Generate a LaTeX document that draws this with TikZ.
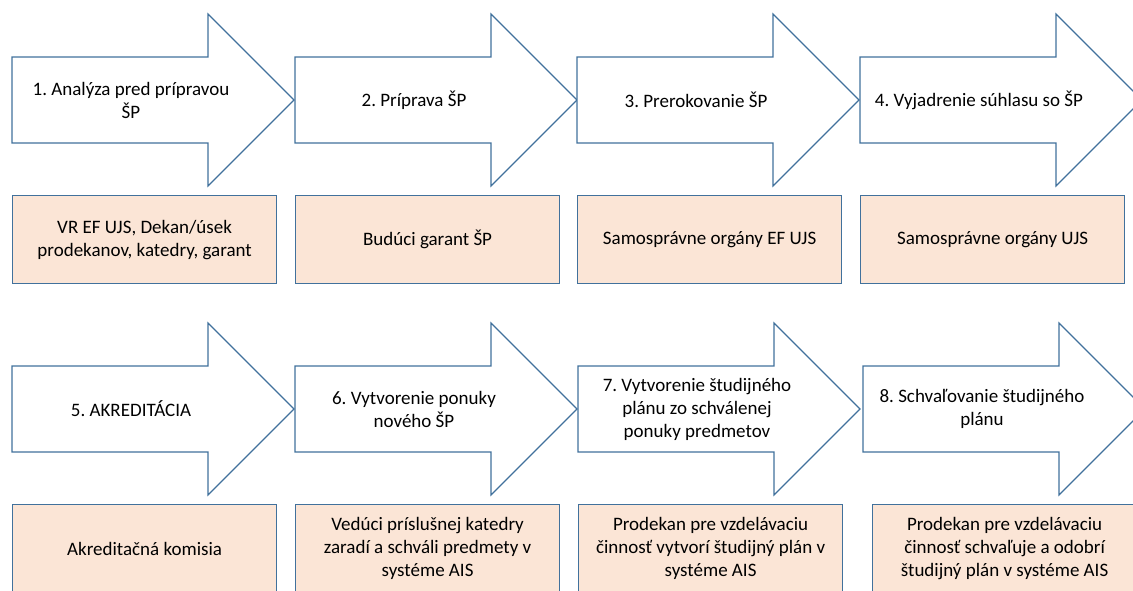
\documentclass[tikz,border=0pt]{standalone}
\usepackage{fontspec}
\setmainfont{Carlito}
\frenchspacing
\definecolor{outl}{HTML}{41719C}
\definecolor{peach}{HTML}{FBE5D6}
\begin{document}
\begin{tikzpicture}[x=1pt,y=-1pt,
  arr/.style={draw=outl,fill=white,line width=1.2pt,line join=miter},
  box/.style={draw=outl,fill=peach,line width=1.2pt,anchor=north west,
    minimum width=264pt,minimum height=88pt,inner sep=0pt,align=center,
    font=\fontsize{19}{23}\selectfont},
  lbl/.style={align=center,inner sep=0pt,font=\fontsize{19}{23}\selectfont}]
\useasboundingbox (0,0) rectangle (1133,590);
\clip (0,0) rectangle (1133,590);
\newcommand\barrow[3]{%
  \draw[arr] (#1,#2-43) -- (#1+196,#2-43) -- (#1+196,#2-86) -- (#1+282,#2)
    -- (#1+196,#2+86) -- (#1+196,#2+43) -- (#1,#2+43) -- cycle;
  \coordinate (#3) at (#1+119,#2);}
% row 1 arrows
\barrow{12}{100}{a1}
\barrow{295}{100}{a2}
\barrow{577}{100}{a3}
\barrow{860}{100}{a4}
\node[lbl] (t1) at (131,100) {1. Analýza pred prípravou\\ŠP};
\node[lbl] (t2) at (414,100) {2. Príprava ŠP};
\node[lbl] (t3) at (696,100) {3. Prerokovanie ŠP};
\node[lbl] (t4) at (979,100) {4. Vyjadrenie súhlasu so ŠP};
% row 1 boxes
\node[box] (b1) at (12,195) {VR EF UJS, Dekan/úsek\\prodekanov, katedry, garant};
\node[box] (b2) at (295,195) {Budúci garant ŠP};
\node[box] (b3) at (577,195) {Samosprávne orgány EF UJS};
\node[box] (b4) at (860,195) {Samosprávne orgány UJS};
% row 2 arrows
\barrow{12}{409}{a5}
\barrow{295}{409}{a6}
\barrow{578}{409}{a7}
\barrow{863}{409}{a8}
\node[lbl] (t5) at (131,409) {5. AKREDITÁCIA};
\node[lbl] (t6) at (414,409) {6. Vytvorenie ponuky\\nového ŠP};
\node[lbl] (t7) at (697,409) {7. Vytvorenie študijného\\plánu zo schválenej\\ponuky predmetov};
\node[lbl] (t8) at (982,409) {8. Schvaľovanie študijného\\plánu};
% row 2 boxes
\node[box] (b5) at (12,504) {Akreditačná komisia};
\node[box] (b6) at (295,504) {Vedúci príslušnej katedry\\zaradí a schváli predmety v\\systéme AIS};
\node[box] (b7) at (578,504) {Prodekan pre vzdelávaciu\\činnosť vytvorí študijný plán v\\systéme AIS};
\node[box] (b8) at (872,504) {Prodekan pre vzdelávaciu\\činnosť schvaľuje a odobrí\\študijný plán v systéme AIS};
\end{tikzpicture}
\end{document}
